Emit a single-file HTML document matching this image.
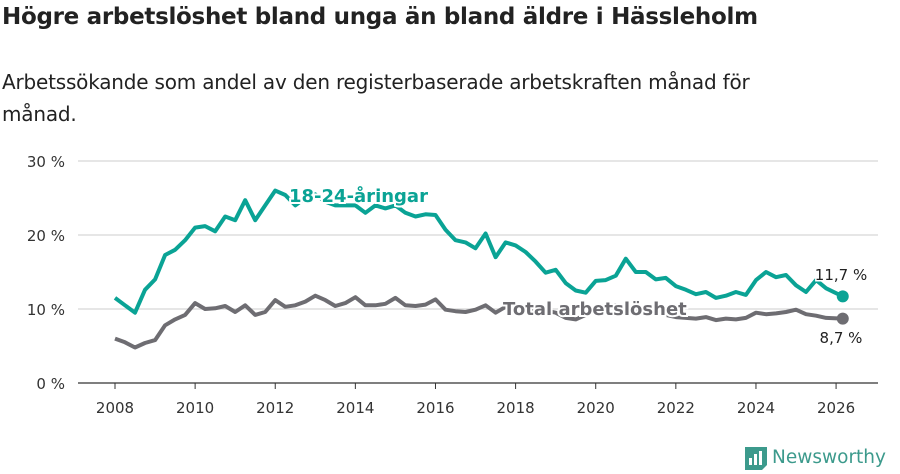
<!DOCTYPE html>
<html><head><meta charset="utf-8"><style>
body{margin:0;background:#fff;width:900px;height:474px;overflow:hidden;font-family:"Liberation Sans","DejaVu Sans",sans-serif;color:#222}
h1{position:absolute;left:2px;top:4px;margin:0;font-size:23px;font-weight:bold;font-family:"DejaVu Sans","Liberation Sans",sans-serif;letter-spacing:-0.3px}
p.sub{position:absolute;left:2px;top:66px;margin:0;font-size:20px;line-height:32px;width:860px;font-family:"DejaVu Sans","Liberation Sans",sans-serif;letter-spacing:-0.2px}
svg{position:absolute;left:0;top:0}
</style></head><body>
<h1>Högre arbetslöshet bland unga än bland äldre i Hässleholm</h1>
<p class="sub">Arbetssökande som andel av den registerbaserade arbetskraften månad för<br>månad.</p>
<svg id="chart" width="900" height="474" font-family="DejaVu Sans, Liberation Sans, sans-serif"></svg>
<script>
const dates=[];for(let y=2008;y<=2025;y++)for(const m of [1,4,7,10])dates.push(y+"-"+String(m).padStart(2,"0"));dates.push("2026-03");
const youth=[11.5,10.5,9.5,12.6,14,17.3,18,19.3,21,21.2,20.5,22.5,22,24.7,22,24,26,25.4,24,25,25.5,24.5,24,24,24,23,24,23.6,24,23,22.5,22.8,22.7,20.7,19.3,19,18.2,20.2,17,19,18.6,17.7,16.4,14.9,15.3,13.5,12.5,12.2,13.8,13.9,14.5,16.8,15,15,14,14.2,13.1,12.6,12,12.3,11.5,11.8,12.3,11.9,13.9,15,14.3,14.6,13.2,12.3,13.9,12.8,11.7];
const total=[6,5.5,4.8,5.4,5.8,7.8,8.6,9.2,10.8,10,10.1,10.4,9.6,10.5,9.2,9.6,11.2,10.3,10.5,11,11.8,11.2,10.4,10.8,11.6,10.5,10.5,10.7,11.5,10.5,10.4,10.6,11.3,9.9,9.7,9.6,9.9,10.5,9.5,10.3,10.3,10.2,10,9.8,9.5,8.8,8.6,9.2,10,10.5,10.5,10.2,10,9.8,9.5,9.2,8.9,8.8,8.7,8.9,8.5,8.7,8.6,8.8,9.5,9.3,9.4,9.6,9.9,9.3,9.1,8.8,8.7];
const yTicks=[0,10,20,30];
const xTicks=[2008,2010,2012,2014,2016,2018,2020,2022,2024,2026];
const svg=document.getElementById('chart');const NS="http://www.w3.org/2000/svg";
function xs(v){return 115+(v-2008)*40.06}
function xd(d){const [y,m]=d.split("-").map(Number);return xs(y+(m-1)/12)}
function ys(v){return 383-v*7.4}
function el(t,a,txt){const e=document.createElementNS(NS,t);for(const k in a)e.setAttribute(k,a[k]);if(txt!==undefined)e.textContent=txt;svg.appendChild(e);return e}
yTicks.forEach(t=>{
 const l=el('line',{x1:78,x2:878,y1:ys(t),y2:ys(t),stroke:t===0?'#333':'#ddd','stroke-width':t===0?1.2:1.5});
 
 
 const tx=el('text',{x:65,y:ys(t)+6,'text-anchor':'end','font-size':15,fill:'#333'},t+' %');
 
 
});
xTicks.forEach(t=>{
 const l=el('line',{x1:xs(t),x2:xs(t),y1:383,y2:389,stroke:'#333'});
 
 
 const tx=el('text',{x:xs(t),y:413,'text-anchor':'middle','font-size':15,fill:'#333'},t);
 
 
});
function line(vals,col,name){
 const d=vals.map((v,i)=>(i?'L':'M')+xd(dates[i]).toFixed(1)+','+ys(v).toFixed(1)).join('');
 const p=el('path',{d:d,fill:'none',stroke:col,'stroke-width':4,'stroke-linejoin':'round'});
 
 
 const n=vals.length-1;
 const c=el('circle',{cx:xd(dates[n]),cy:ys(vals[n]),r:6,fill:col});
 
 
}
line(total,'#6e6d72','total');
line(youth,'#0aa395','youth');
function lab(x,y,t,col,anchor,w,name){
 const e=el('text',{x:x,y:y,'font-size':w?18:15,'font-weight':w?'bold':'normal',fill:col,'text-anchor':anchor,stroke:'#fff','stroke-width':w?4:3,'paint-order':'stroke'},t);
 
 
}
lab(289,202,'18-24-åringar','#0aa395','start',1,'youth-series-label');
lab(503,315,'Total arbetslöshet','#6e6d72','start',1,'total-series-label');
lab(841,280,'11,7 %','#222','middle',0,'youth-last-value');
lab(841,343,'8,7 %','#222','middle',0,'total-last-value');
</script>
<div style="position:absolute;left:744px;top:444px;display:flex;align-items:center">
<svg width="24" height="27" style="position:static"><path d="M1 3h22v18l-5 5H1z" fill="#3c9a8c"/><rect x="5" y="14" width="3" height="7" fill="#fff"/><rect x="10" y="10" width="3" height="11" fill="#fff"/><rect x="15" y="7" width="3" height="14" fill="#fff"/></svg>
<span style="font-size:18.5px;color:#3c9a8c;margin-left:4px;font-family:'DejaVu Sans',sans-serif">Newsworthy</span></div>
</body></html>
